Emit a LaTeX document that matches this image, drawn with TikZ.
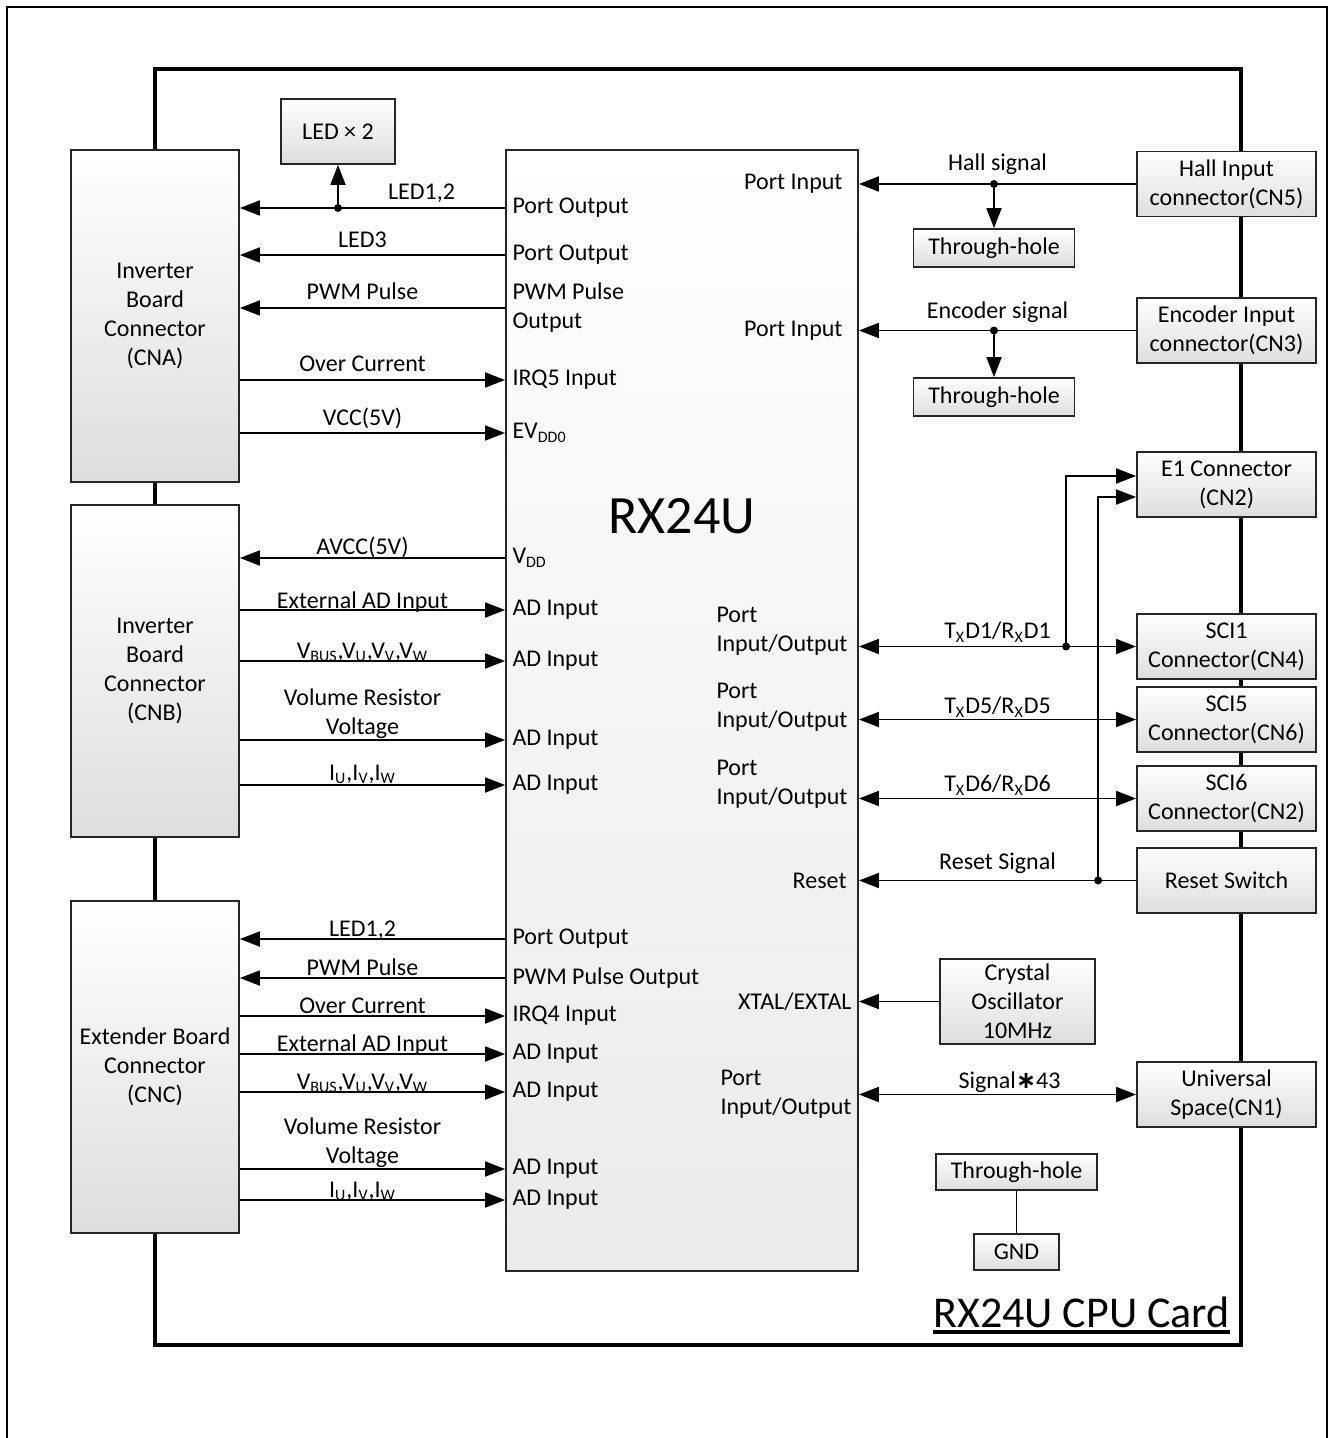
\documentclass[tikz,border=0pt]{standalone}
\usepackage{fontspec}
\setmainfont{Carlito}
\newfontfamily\symfont{DejaVu Sans}
\usetikzlibrary{arrows.meta, positioning}

\begin{document}
\begin{tikzpicture}[x=0.5pt, y=-0.5pt,
  every node/.style={font=\fontsize{12}{14.5}\selectfont},
  box/.style={draw=black!85, line width=0.9pt, top color=white, bottom color=black!13, align=center, inner sep=0pt},
  sidebox/.style={box, minimum width=84pt, minimum height=166pt},
  rbox/.style={box, minimum width=89.5pt, minimum height=32.5pt},
  hbox/.style={box, minimum width=80.5pt, minimum height=19pt},
  arr/.style={-{Triangle[length=10pt, width=7.5pt]}, line width=0.9pt},
  darr/.style={{Triangle[length=10pt, width=7.5pt]}-{Triangle[length=10pt, width=7.5pt]}, line width=0.9pt},
  lbl/.style={midway, anchor=base, inner sep=0pt, yshift=1.5pt},
  llbl/.style={lbl, xshift=-5pt},
  vlbl/.style={midway, above, inner sep=0pt, align=center, xshift=-5pt},
  pinL/.style={anchor=west, inner xsep=3.5pt, inner ysep=0pt, align=left},
  pinR/.style={anchor=east, inner ysep=0pt, align=left}]
\useasboundingbox (0,0) rectangle (1330,1438);
% frames
\draw[line width=1pt] (7,7) rectangle (1327,1470);
\draw[line width=2.2pt] (155,69) rectangle (1241,1345);

% boxes
\node[sidebox] (cna) at (155,316) {Inverter\\Board\\Connector\\(CNA)};
\node[sidebox] (cnb) at (155,671) {Inverter\\Board\\Connector\\(CNB)};
\node[sidebox] (cnc) at (155,1067) {Extender Board\\Connector\\(CNC)};
\node[box, minimum width=57pt, minimum height=32.5pt] (led) at (338,131.5) {LED × 2};
\node[box, bottom color=black!8, minimum width=176pt, minimum height=560.5pt] (chip) at (682,710.5) {};
\node[font=\fontsize{27}{30}\selectfont] (mcu) at (682,516) {RX24U};
\node[rbox] (hall) at (1226.5,184) {Hall Input\\connector(CN5)};
\node[rbox] (enc) at (1226.5,330.5) {Encoder Input\\connector(CN3)};
\node[rbox] (e1) at (1226.5,484.5) {E1 Connector\\(CN2)};
\node[rbox] (sci1) at (1226.5,646.5) {SCI1\\Connector(CN4)};
\node[rbox] (sci5) at (1226.5,719.5) {SCI5\\Connector(CN6)};
\node[rbox] (sci6) at (1226.5,798.5) {SCI6\\Connector(CN2)};
\node[rbox] (rst) at (1226.5,880.5) {Reset Switch};
\node[rbox] (univ) at (1226.5,1094.5) {Universal\\Space(CN1)};
\node[hbox] (th1) at (994,248) {Through-hole};
\node[hbox] (th2) at (994,397) {Through-hole};
\node[box, minimum width=77.5pt, minimum height=42.5pt] (xtal) at (1017.5,1001.5) {Crystal\\Oscillator\\10MHz};
\node[hbox, minimum height=18pt] (th3) at (1016.5,1172) {Through-hole};
\node[box, minimum width=42.5pt, minimum height=18pt] (gnd) at (1016.5,1252) {GND};

% chip pins, left side
\node[pinL] (a1) at (chip.west |- 0,208) {Port Output};
\node[pinL] (a2) at (chip.west |- 0,255) {Port Output};
\node[pinL] (a3) at (chip.west |- 0,308) {PWM Pulse\\Output};
\node[pinL] (a4) at (chip.west |- 0,380) {IRQ5 Input};
\node[pinL] (a5) at (chip.west |- 0,433) {EV\textsubscript{DD0}};
\node[pinL] (b1) at (chip.west |- 0,558) {V\textsubscript{DD}};
\node[pinL] (b2) at (chip.west |- 0,610) {AD Input};
\node[pinL] (b3) at (chip.west |- 0,661) {AD Input};
\node[pinL] (b4) at (chip.west |- 0,740) {AD Input};
\node[pinL] (b5) at (chip.west |- 0,785) {AD Input};
\node[pinL] (c1) at (chip.west |- 0,939) {Port Output};
\node[pinL] (c2) at (chip.west |- 0,978) {PWM Pulse Output};
\node[pinL] (c3) at (chip.west |- 0,1016) {IRQ4 Input};
\node[pinL] (c4) at (chip.west |- 0,1054) {AD Input};
\node[pinL] (c5) at (chip.west |- 0,1092) {AD Input};
\node[pinL] (c6) at (chip.west |- 0,1169) {AD Input};
\node[pinL] (c7) at (chip.west |- 0,1200) {AD Input};

% chip pins, right side
\node[pinR, inner xsep=8pt] (pi1) at (chip.east |- hall.west) {Port Input};
\node[pinR, inner xsep=8pt] (pi2) at (chip.east |- enc.west) {Port Input};
\node[pinR, inner xsep=5.5pt, yshift=7.5pt] (io1) at (chip.east |- sci1.west) {Port\\Input/Output};
\node[pinR, inner xsep=5.5pt, yshift=6pt] (io5) at (chip.east |- sci5.west) {Port\\Input/Output};
\node[pinR, inner xsep=5.5pt, yshift=7pt] (io6) at (chip.east |- sci6.west) {Port\\Input/Output};
\node[pinR, inner xsep=6pt] (rs) at (chip.east |- rst.west) {Reset};
\node[pinR, inner xsep=3.5pt] (xt) at (chip.east |- xtal.west) {XTAL/EXTAL};
\node[pinR, inner xsep=3.5pt] (io43) at (chip.east |- univ.west) {Port\\Input/Output};

% CNA signals
\coordinate (ld) at (led.south |- a1.west);
\draw[arr] (a1.west) -- node[lbl, yshift=2.5pt]{LED1,2} (ld) -- (a1.west -| cna.east);
\draw[arr] (ld) -- (led.south);
\fill (ld) circle (2pt);
\draw[arr] (a2.west) -- node[llbl, yshift=2pt]{LED3} (a2.west -| cna.east);
\draw[arr] (a3.west) -- node[llbl, yshift=2.5pt]{PWM Pulse} (a3.west -| cna.east);
\draw[arr] (a4.west -| cna.east) -- node[llbl, yshift=2.5pt]{Over Current} (a4.west);
\draw[arr] (a5.west -| cna.east) -- node[llbl, yshift=2pt]{VCC(5V)} (a5.west);

% CNB signals
\draw[arr] (b1.west) -- node[llbl, yshift=0.5pt]{AVCC(5V)} (b1.west -| cnb.east);
\draw[arr] (b2.west -| cnb.east) -- node[llbl, yshift=-0.5pt]{External AD Input} (b2.west);
\draw[arr] (b3.west -| cnb.east) -- node[llbl]{V\textsubscript{BUS},V\textsubscript{U},V\textsubscript{V},V\textsubscript{W}} (b3.west);
\draw[arr] (b4.west -| cnb.east) -- node[vlbl]{Volume Resistor\\Voltage} (b4.west);
\draw[arr] (b5.west -| cnb.east) -- node[llbl, yshift=1pt]{I\textsubscript{U},I\textsubscript{V},I\textsubscript{W}} (b5.west);

% CNC signals
\draw[arr] (c1.west) -- node[llbl]{LED1,2} (c1.west -| cnc.east);
\draw[arr] (c2.west) -- node[llbl]{PWM Pulse} (c2.west -| cnc.east);
\draw[arr] (c3.west -| cnc.east) -- node[llbl]{Over Current} (c3.west);
\draw[arr] (c4.west -| cnc.east) -- node[llbl]{External AD Input} (c4.west);
\draw[arr] (c5.west -| cnc.east) -- node[llbl]{V\textsubscript{BUS},V\textsubscript{U},V\textsubscript{V},V\textsubscript{W}} (c5.west);
\draw[arr] (c6.west -| cnc.east) -- node[vlbl]{Volume Resistor\\Voltage} (c6.west);
\draw[arr] (c7.west -| cnc.east) -- node[llbl]{I\textsubscript{U},I\textsubscript{V},I\textsubscript{W}} (c7.west);

% right side signals
\coordinate (hd) at (th1.north |- hall.west);
\draw[arr] (hall.west) -- node[lbl, yshift=5pt]{Hall signal} (hall.west -| chip.east);
\draw[arr] (hd) -- (th1.north);
\fill (hd) circle (2pt);
\coordinate (ed) at (th2.north |- enc.west);
\draw[arr] (enc.west) -- node[lbl, yshift=4.5pt]{Encoder signal} (enc.west -| chip.east);
\draw[arr] (ed) -- (th2.north);
\fill (ed) circle (2pt);
\draw[darr] (sci1.west -| chip.east) -- node[lbl, yshift=2.5pt]{T\textsubscript{X}D1/R\textsubscript{X}D1} (sci1.west);
\draw[darr] (sci5.west -| chip.east) -- node[lbl, yshift=1.5pt]{T\textsubscript{X}D5/R\textsubscript{X}D5} (sci5.west);
\draw[darr] (sci6.west -| chip.east) -- node[lbl, yshift=2pt]{T\textsubscript{X}D6/R\textsubscript{X}D6} (sci6.west);
\draw[arr] (rst.west) -- node[lbl, yshift=4pt]{Reset Signal} (rst.west -| chip.east);
\coordinate (j1) at ([xshift=-35pt]sci1.west);
\coordinate (j2) at ([xshift=-19pt]rst.west);
\draw[arr] (j1) |- ([yshift=4.25pt]e1.west);
\draw[arr] (j2) |- ([yshift=-6.25pt]e1.west);
\fill (j1) circle (2pt);
\fill (j2) circle (2pt);
\draw[arr] (xtal.west) -- (xtal.west -| chip.east);
\draw[darr] (univ.west -| chip.east) -- node[lbl, yshift=1.5pt, xshift=6pt]{Signal{\symfont\bfseries ∗}43} (univ.west);
\draw[line width=0.9pt] (th3) -- (gnd);

% card title
\node[anchor=base east, inner sep=0pt, font=\fontsize{22}{25}\selectfont] (ttl) at (1230,1327) {RX24U CPU Card};
\draw[line width=1.6pt] ([yshift=-2.5pt]ttl.base west) -- ([yshift=-2.5pt]ttl.base east);
\end{tikzpicture}
\end{document}
